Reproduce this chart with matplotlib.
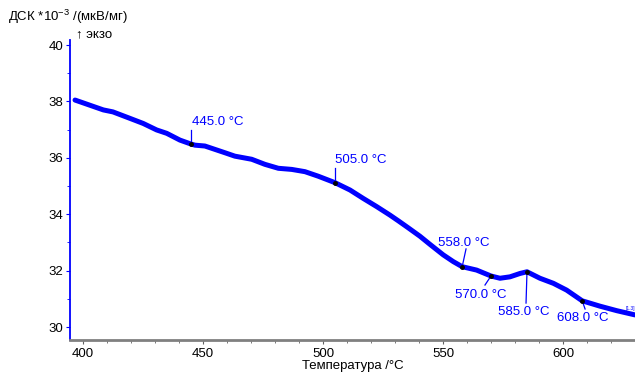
import matplotlib
matplotlib.use("Agg")
import matplotlib.pyplot as plt
from matplotlib.ticker import MultipleLocator

plt.rcParams['font.family'] = ['Liberation Sans', 'DejaVu Sans']
plt.rcParams['mathtext.fontset'] = 'custom'
plt.rcParams['mathtext.rm'] = 'Liberation Sans'

temp = [396.7, 408.5, 412.5, 419.6, 425.1, 430.7, 434.9, 440.4, 445.0, 446.7, 450.8, 455.0,
        459.2, 463.3, 470.3, 475.8, 481.4, 487.0, 492.5, 498.0, 505.0, 511.25, 516.8, 522.4,
        527.9, 531.5, 535.5, 540.4, 544.6, 550.1, 554.3, 558.0, 564.0, 570.0, 573.75, 577.9,
        582.1, 585.0, 590.4, 596.0, 601.5, 608.0, 615.4, 622.4, 630.0]
dsc = [38.05, 37.70, 37.63, 37.40, 37.22, 36.99, 36.87, 36.63, 36.49, 36.45, 36.42, 36.30,
       36.18, 36.06, 35.95, 35.77, 35.63, 35.59, 35.51, 35.35, 35.12, 34.86, 34.56, 34.27,
       33.97, 33.76, 33.52, 33.22, 32.93, 32.56, 32.32, 32.14, 32.02, 31.81, 31.73, 31.78,
       31.90, 31.96, 31.73, 31.55, 31.31, 30.93, 30.74, 30.58, 30.43]

event_t = [445.0, 505.0, 558.0, 570.0, 585.0, 608.0]
event_v = [36.49, 35.12, 32.14, 31.81, 31.96, 30.93]
event_labels = ["445.0 °C", "505.0 °C", "558.0 °C", "570.0 °C", "585.0 °C", "608.0 °C"]
label_xy = [(445.4, 37.27), (505.0, 35.92), (547.9, 32.98), (555.0, 31.13), (572.9, 30.53), (597.5, 30.32)]
leader_end = [(445.0, 36.99), (505.0, 35.64), (559.6, 32.77), (567.5, 31.49), (584.6, 30.85), (609.2, 30.64)]

fig = plt.figure(figsize=(6.35, 3.74), dpi=100)
ax = fig.add_axes([70/635, 1-340/374, 1-70/635, 300/374])
blue = '#0000ff'
ax.plot(temp, dsc, color=blue, lw=3.6, solid_capstyle='round', solid_joinstyle='round', zorder=3)

for t, v, lab, (lx, ly), (ex, ey) in zip(event_t, event_v, event_labels, label_xy, leader_end):
    ax.plot([t, ex], [v, ey], color=blue, lw=0.9, zorder=4)
    ax.plot([t], [v], 'o', color='black', ms=2.5, zorder=5)
    ax.text(lx, ly, lab, color=blue, fontsize=9.5, ha='left', va='center', zorder=6)

ax.text(626.0, 30.66, "[1.3]", color=blue, fontsize=3.5, ha='left', va='center')

ax.set_xlim(394.6, 630)
ax.set_ylim(29.54, 40.18)
ax.xaxis.set_major_locator(MultipleLocator(50))
ax.xaxis.set_minor_locator(MultipleLocator(10))
ax.yaxis.set_major_locator(MultipleLocator(2))
ax.yaxis.set_minor_locator(MultipleLocator(1))

for s in ['top', 'right']:
    ax.spines[s].set_visible(False)
ax.spines['left'].set_color(blue)
ax.spines['left'].set_linewidth(1.3)
ax.spines['bottom'].set_color('#808080')
ax.spines['bottom'].set_linewidth(2.0)

ax.tick_params(axis='y', which='major', length=3, color=blue, labelsize=9.5, pad=2)
ax.tick_params(axis='y', which='minor', length=2, color=blue)
ax.tick_params(axis='x', which='major', length=3, color='#606060', labelsize=9.5, pad=3)
ax.tick_params(axis='x', which='minor', length=2, color='#606060')

ax.set_xlabel("Температура /°C", fontsize=9.5, labelpad=0)
fig.text(8/635, 1-17/374, "ДСК *10$^{-3}$ /(мкВ/мг)", fontsize=9.5, ha='left', va='center')
fig.text(76/635, 1-34/374, "↑ экзо", fontsize=9.5, ha='left', va='center')

fig.savefig("out.png", dpi=100)
